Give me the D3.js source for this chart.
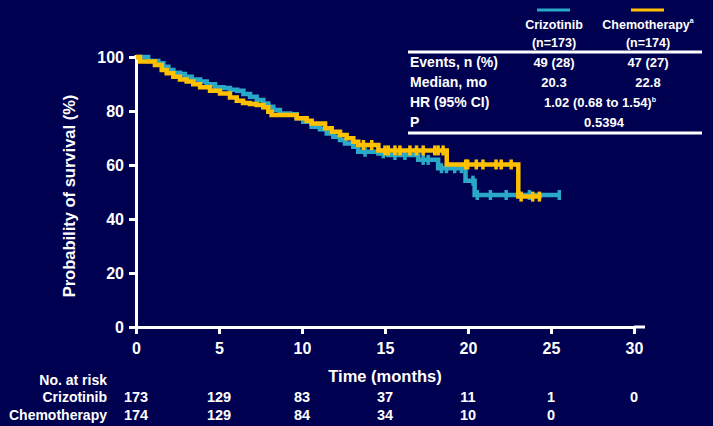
<!DOCTYPE html>
<html><head><meta charset="utf-8">
<script src="https://cdn.jsdelivr.net/npm/d3@7"></script>
<style>
html,body{margin:0;padding:0;background:#000050;}
svg{display:block;font-family:"Liberation Sans",Arial,sans-serif;font-weight:bold;}
</style></head>
<body><svg id="c" width="713" height="426"></svg>
<script>
// ---- data ----
const xTicks = [0,5,10,15,20,25,30];
const yTicks = [0,20,40,60,80,100];
const seriesNames = ["Crizotinib","Chemotherapy"];
const seriesN = ["(n=173)","(n=174)"];
// step points [time (months), survival (%)]
const crizotinib = [[0,100],[0.73,98.5],[1.34,97.7],[1.65,96.4],[1.95,95.2],[2.25,94.2],[2.65,93.7],[2.95,92.7],[3.35,91.7],[3.86,90.9],[4.26,89.9],[4.76,88.8],[5.26,88.5],[5.66,87.9],[6.1,87.5],[6.47,86.3],[6.87,85.3],[7.27,84.1],[7.67,82.8],[7.97,81.6],[8.27,80.4],[8.67,79.1],[9.28,78.8],[9.68,77.3],[10.08,76],[10.58,74.2],[11.08,73.2],[11.49,71.7],[11.89,70.5],[12.29,69.3],[12.59,68],[13.09,66.8],[13.39,64.9],[14.6,64.3],[15.2,63.7],[17.0,61.9],[18.2,58.8],[19.85,54.2],[20.4,48.9],[25.6,48.9]];
const chemotherapy = [[0,100],[0.24,98.3],[1.14,97],[1.55,95.2],[1.85,94],[2.25,92.7],[2.65,91.7],[3.05,90.9],[3.45,89.9],[3.86,88.8],[4.46,87.5],[5.06,86.5],[5.66,85],[6.07,83.8],[6.45,83],[6.87,82.6],[7.27,82.2],[7.67,81.4],[7.97,79.7],[8.17,78.5],[9.68,77.3],[10.28,76.4],[10.58,75.4],[11.39,73.6],[11.79,72.3],[12.29,71.1],[12.69,69.9],[13.09,68.6],[13.39,67.4],[14.6,65.4],[18.72,60.2],[23.03,48.3],[24.43,48.3]];
const crizCensor = [13.8,14.9,15.6,16.2,17.3,17.6,18.4,18.7,19.2,19.6,20.3,20.56,21.35,22.3,23.7,25.5];
const chemoCensor = [13.7,14.2,15.0,15.2,15.6,15.9,16.5,16.9,17.3,18.0,18.2,18.5,19.86,19.98,20.5,20.9,21.69,22.0,22.6,23.2,23.9,24.3];
const atRiskLabels = ["Crizotinib","Chemotherapy"];
const atRiskCriz = [173,129,83,37,11,1,0];
const atRiskChemo = [174,129,84,34,10,0,null];
const tableRows = ["Events, n (%)","Median, mo","HR (95% CI)","P"];
const tableCriz = ["49 (28)","20.3"];
const tableChemo = ["47 (27)","22.8"];
const hrText = "1.02 (0.68 to 1.54)";
const pText = "0.5394";

const colors = {criz:"#2aa8c8", chemo:"#ffc000", fg:"#ffffff"};

// ---- drawing ----
const svg = d3.select("#c");
const x = d3.scaleLinear().domain([0,30]).range([136,634]);
const y = d3.scaleLinear().domain([0,100]).range([327,57]);

// axes
const yAxis = d3.axisLeft(y).tickValues(yTicks).tickSize(7).tickSizeOuter(0).tickPadding(5);
const gy = svg.append("g").attr("transform",`translate(${x(0)},0)`).call(yAxis);
const xAxis = d3.axisBottom(x).tickValues(xTicks).tickSize(7).tickSizeOuter(0).tickPadding(9);
const gx = svg.append("g").attr("transform",`translate(0,${y(0)})`).call(xAxis);
[gx,gy].forEach(g=>{
  g.selectAll("path.domain").attr("stroke",colors.fg).attr("stroke-width",3);
  g.selectAll(".tick line").attr("stroke",colors.fg).attr("stroke-width",3);
  g.selectAll(".tick text").attr("fill",colors.fg).style("font-size","16px").style("font-weight","bold").style("font-family","'Liberation Sans',Arial,sans-serif");
});
// extend domains slightly like reference
svg.append("line").attr("x1",x(30)).attr("x2",x(30)+11).attr("y1",y(0)).attr("y2",y(0)).attr("stroke",colors.fg).attr("stroke-width",3);
svg.append("line").attr("x1",x(0)).attr("x2",x(0)).attr("y1",y(100)).attr("y2",y(100)-2).attr("stroke",colors.fg).attr("stroke-width",3);

// axis titles
svg.append("text").attr("x",x(15)).attr("y",382).attr("text-anchor","middle")
  .attr("fill",colors.fg).style("font-size","16.5px").text("Time (months)");
svg.append("text").attr("transform",`translate(75,${(y(0)+y(100))/2+4}) rotate(-90)`).attr("text-anchor","middle")
  .attr("fill",colors.fg).style("font-size","16.5px").text("Probability of survival (%)");

// curves
const line = d3.line().x(d=>x(d[0])).y(d=>y(d[1])).curve(d3.curveStepAfter);
function survAt(data,t){let s=data[0][1];for(const d of data){if(d[0]<=t)s=d[1];else break;}return s;}
function drawSeries(data,cens,col){
  svg.append("path").datum(data).attr("d",line).attr("fill","none").attr("stroke",col).attr("stroke-width",4.5);
  svg.append("g").selectAll("line").data(cens).join("line")
    .attr("x1",d=>x(d)).attr("x2",d=>x(d))
    .attr("y1",d=>y(survAt(data,d))-5).attr("y2",d=>y(survAt(data,d))+5)
    .attr("stroke",col).attr("stroke-width",3.5);
}
drawSeries(crizotinib,crizCensor,colors.criz);
drawSeries(chemotherapy,chemoCensor,colors.chemo);

// number at risk
const fs = "14.5px";
svg.append("text").attr("x",107).attr("y",385).attr("text-anchor","end").attr("fill",colors.fg).style("font-size","14px").text("No. at risk");
[atRiskCriz,atRiskChemo].forEach((arr,i)=>{
  const yy = 402 + i*18;
  svg.append("text").attr("x",107).attr("y",yy).attr("text-anchor","end").attr("fill",colors.fg).style("font-size","14px").text(atRiskLabels[i]);
  svg.append("g").selectAll("text").data(arr.map((v,j)=>[xTicks[j],v]).filter(d=>d[1]!==null)).join("text")
    .attr("x",d=>x(d[0])).attr("y",yy).attr("text-anchor","middle").attr("fill",colors.fg).style("font-size",fs).text(d=>d[1]);
});

// table / legend
const colX = [554,648];
const legCols = [colors.criz,colors.chemo];
colX.forEach((cx,i)=>{
  svg.append("line").attr("x1",cx-17).attr("x2",cx+16).attr("y1",10).attr("y2",10).attr("stroke",legCols[i]).attr("stroke-width",3);
  const t = svg.append("text").attr("x",cx).attr("y",29).attr("text-anchor","middle").attr("fill",colors.fg).style("font-size","12.5px").text(seriesNames[i]);
  if(i===1) t.append("tspan").attr("dy",-6).style("font-size","7px").text("a");
  svg.append("text").attr("x",cx).attr("y",47).attr("text-anchor","middle").attr("fill",colors.fg).style("font-size","12.5px").text(seriesN[i]);
});
svg.append("line").attr("x1",408).attr("x2",702).attr("y1",52).attr("y2",52).attr("stroke",colors.fg).attr("stroke-width",3);
svg.append("line").attr("x1",408).attr("x2",702).attr("y1",133).attr("y2",133).attr("stroke",colors.fg).attr("stroke-width",3);
tableRows.forEach((r,i)=>{
  svg.append("text").attr("x",410).attr("y",67+i*20).attr("fill",colors.fg).style("font-size","14px").text(r);
});
[tableCriz,tableChemo].forEach((vals,i)=>{
  vals.forEach((v,j)=>{
    svg.append("text").attr("x",colX[i]).attr("y",67+j*20).attr("text-anchor","middle").attr("fill",colors.fg).style("font-size","13px").text(v);
  });
});
const hr = svg.append("text").attr("x",600).attr("y",107).attr("text-anchor","middle").attr("fill",colors.fg).style("font-size","13px").text(hrText);
hr.append("tspan").attr("dy",-5).style("font-size","7px").text("b");
svg.append("text").attr("x",604).attr("y",127).attr("text-anchor","middle").attr("fill",colors.fg).style("font-size","13px").text(pText);
</script></body></html>
